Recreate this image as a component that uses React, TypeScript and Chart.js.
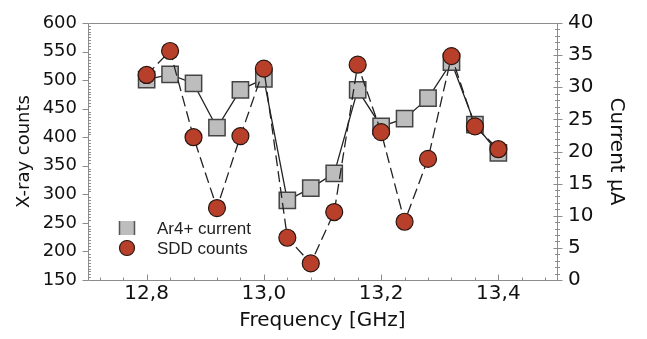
import React, { useEffect, useRef } from "react";
import { Chart, registerables } from "chart.js";

Chart.register(...registerables);

// ---- data ----
const frequencies = [12.8, 12.84, 12.88, 12.92, 12.96, 13.0, 13.04, 13.08, 13.12, 13.16, 13.2, 13.24, 13.28, 13.32, 13.36, 13.4];
const currentUA = [31.2, 32.0, 30.6, 23.7, 29.6, 31.3, 12.4, 14.3, 16.6, 29.6, 23.9, 25.1, 28.3, 33.9, 24.2, 19.8];
const sddCounts = [509, 551, 400, 276, 402, 520, 224, 179, 269, 527, 409, 252, 362, 542, 419, 379];
const xTickValues = [12.8, 13.0, 13.2, 13.4];
const seriesLabels = ["Ar4+ current", "SDD counts"];
const axisTitles = { x: "Frequency [GHz]", yLeft: "X-ray counts", yRight: "Current µA" };

const SQUARE_FILL = "#bdbdbd";
const SQUARE_BORDER = "#444444";
const CIRCLE_FILL = "#b8402a";
const CIRCLE_BORDER = "#2a1510";
const FRAME = "#8c8c8c";

export default function App() {
  const ref = useRef<HTMLCanvasElement>(null);

  useEffect(() => {
    if (!ref.current) return;

    const framePlugin = {
      id: "frameTicks",
      beforeDatasetsDraw(chart: any) {
        const { ctx, chartArea: a, scales } = chart;
        const L = Math.round(a.left) + 0.5;
        const R = Math.round(a.right) + 0.5;
        const T = Math.round(a.top) + 0.5;
        const B = Math.round(a.bottom) + 0.5;
        ctx.save();
        ctx.strokeStyle = FRAME;
        ctx.lineWidth = 1;
        ctx.beginPath();
        ctx.moveTo(L, T); ctx.lineTo(R, T); ctx.lineTo(R, B); ctx.lineTo(L, B); ctx.closePath();
        // left axis
        for (let v = 150; v <= 600; v += 5) {
          const y = Math.round(scales.y.getPixelForValue(v)) + 0.5;
          if (v % 50 === 0) { ctx.moveTo(L - 6, y); ctx.lineTo(L, y); }
          else { ctx.moveTo(L, y); ctx.lineTo(L + 2.5, y); }
        }
        // right axis
        for (let v = 0; v <= 40; v += 1) {
          const y = Math.round(scales.y1.getPixelForValue(v)) + 0.5;
          if (v % 5 === 0) { ctx.moveTo(R - 4, y); ctx.lineTo(R + 5, y); }
          else { ctx.moveTo(R - 2.5, y); ctx.lineTo(R + 2.5, y); }
        }
        // bottom axis
        for (let i = 0; i <= 20; i++) {
          const v = 12.7 + i * 0.04 + 0.02;
          if (v > 13.5) break;
          const x = Math.round(scales.x.getPixelForValue(v)) + 0.5;
          const major = Math.abs(((v - 12.8) / 0.2) - Math.round((v - 12.8) / 0.2)) < 1e-6;
          ctx.moveTo(x, B);
          ctx.lineTo(x, B - (major ? 6 : 3));
        }
        ctx.stroke();
        ctx.restore();
      },
      afterDraw(chart: any) {
        const { ctx, chartArea: a } = chart;
        const mx = a.left + 39;
        const tx = a.left + 69;
        const y1 = a.bottom - 52;
        const y2 = a.bottom - 32;
        ctx.save();
        // square
        ctx.fillStyle = SQUARE_FILL;
        ctx.fillRect(mx - 8, y1 - 7, 16, 14);
        ctx.strokeStyle = "#555";
        ctx.lineWidth = 1.5;
        ctx.beginPath();
        ctx.moveTo(mx - 7.5, y1 - 7); ctx.lineTo(mx - 7.5, y1 + 7);
        ctx.moveTo(mx + 7.5, y1 - 7); ctx.lineTo(mx + 7.5, y1 + 7);
        ctx.stroke();
        // circle
        ctx.beginPath();
        ctx.arc(mx, y2, 7.5, 0, Math.PI * 2);
        ctx.fillStyle = CIRCLE_FILL;
        ctx.fill();
        ctx.strokeStyle = CIRCLE_BORDER;
        ctx.lineWidth = 1.2;
        ctx.stroke();
        ctx.fillStyle = "#222";
        ctx.font = "17px 'Liberation Sans', Arial, sans-serif";
        ctx.textBaseline = "middle";
        ctx.textAlign = "left";
        ctx.fillText(chart.data.datasets[0].label, tx, y1 + 1);
        ctx.fillText(chart.data.datasets[1].label, tx, y2 + 1);
        ctx.restore();
      },
    };

    const chart = new Chart(ref.current, {
      type: "line",
      data: {
        datasets: [
          {
            label: seriesLabels[0],
            data: frequencies.map((f, i) => ({ x: f, y: currentUA[i] })),
            yAxisID: "y1",
            order: 1,
            borderColor: "#222",
            borderWidth: 1.3,
            tension: 0,
            pointStyle: "rect",
            pointRadius: 11.5,
            pointBackgroundColor: SQUARE_FILL,
            pointBorderColor: SQUARE_BORDER,
            pointBorderWidth: 1.5,
          },
          {
            label: seriesLabels[1],
            data: frequencies.map((f, i) => ({ x: f, y: sddCounts[i] })),
            yAxisID: "y",
            order: 0,
            borderColor: "#222",
            borderWidth: 1.3,
            borderDash: [11, 5],
            tension: 0,
            pointStyle: "circle",
            pointRadius: 8.5,
            pointBackgroundColor: CIRCLE_FILL,
            pointBorderColor: CIRCLE_BORDER,
            pointBorderWidth: 1.2,
          },
        ],
      },
      plugins: [framePlugin],
      options: {
        responsive: false,
        animation: false,
        layout: { padding: { top: 11, left: 0, right: 0, bottom: 0 } },
        plugins: { legend: { display: false }, tooltip: { enabled: false } },
        scales: {
          x: {
            type: "linear",
            min: 12.7,
            max: 13.5,
            afterBuildTicks: (s: any) => { s.ticks = xTickValues.map((v) => ({ value: v })); },
            afterFit: (s: any) => { s.height = 59; },
            grid: { display: false, drawTicks: false },
            border: { display: false },
            ticks: {
              padding: 2,
              color: "#111",
              font: { family: "'DejaVu Sans', sans-serif", size: 20 },
              callback: (v: any) => Number(v).toFixed(1).replace(".", ","),
              maxRotation: 0,
            },
            title: {
              display: true,
              text: axisTitles.x,
              color: "#111",
              font: { family: "'DejaVu Sans', sans-serif", size: 20 },
              padding: { top: 0, bottom: 6 },
            },
          },
          y: {
            position: "left",
            min: 150,
            max: 600,
            afterFit: (s: any) => { s.width = 88; },
            grid: { display: false, drawTicks: false },
            border: { display: false },
            ticks: {
              stepSize: 50,
              padding: 11,
              color: "#111",
              font: { family: "'DejaVu Sans', sans-serif", size: 18 },
            },
            title: {
              display: true,
              text: axisTitles.yLeft,
              color: "#111",
              font: { family: "'DejaVu Sans', sans-serif", size: 18 },
              padding: { top: 14, bottom: 0 },
            },
          },
          y1: {
            position: "right",
            min: 0,
            max: 40,
            afterFit: (s: any) => { s.width = 90; },
            grid: { display: false, drawTicks: false },
            border: { display: false },
            ticks: {
              stepSize: 5,
              padding: 11,
              color: "#111",
              font: { family: "'DejaVu Sans', sans-serif", size: 20 },
            },
            title: {
              display: true,
              text: axisTitles.yRight,
              color: "#111",
              font: { family: "'DejaVu Sans', sans-serif", size: 20 },
              padding: { top: 19, bottom: 0 },
            },
          },
        },
      } as any,
    });

    return () => chart.destroy();
  }, []);

  return (
    <div style={{ position: "absolute", left: 0, top: 0, width: 647, height: 339, background: "#fff" }}>
      <canvas ref={ref} width={647} height={339} />
    </div>
  );
}
